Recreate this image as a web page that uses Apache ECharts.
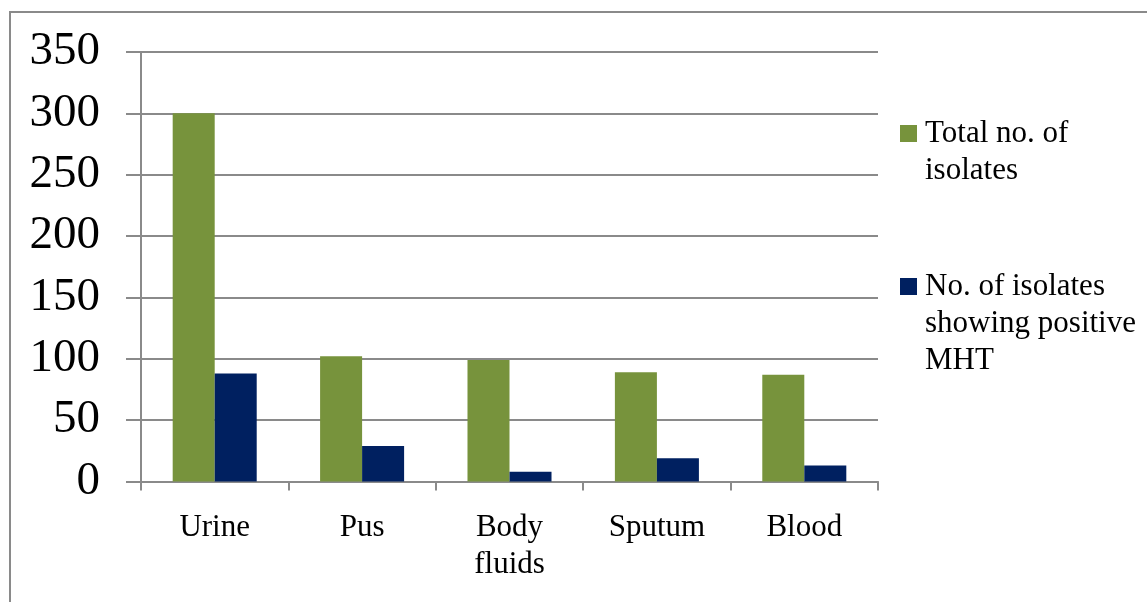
<!DOCTYPE html>
<html>
<head>
<meta charset="utf-8">
<script src="https://cdn.jsdelivr.net/npm/echarts@6/dist/echarts.min.js"></script>
<style>
html,body{margin:0;padding:0;background:#fff;}
#chart{width:1147px;height:602px;}
</style>
</head>
<body>
<div id="chart"></div>
<script>
var categories = ['Urine', 'Pus', 'Body\nfluids', 'Sputum', 'Blood'];
var seriesNames = ['Total no. of isolates', 'No. of isolates showing positive MHT'];
var totalIsolates = [300, 102, 99, 89, 87];
var positiveMHT = [88, 29, 8, 19, 13];
var yTicks = {min: 0, max: 350, interval: 50};

var chart = echarts.init(document.getElementById('chart'), null, {renderer: 'canvas'});
var serif = '"Liberation Serif", "Times New Roman", serif';
var legendText = {
  'Total no. of isolates': '\nTotal no. of\nisolates',
  'No. of isolates showing positive MHT': '\n\nNo. of isolates\nshowing positive\nMHT'
};
function legendCfg(name, top) {
  return {
    data: [name],
    left: 900,
    top: top,
    padding: 0,
    itemWidth: 17,
    itemHeight: 17,
    itemGap: 0,
    icon: 'rect',
    formatter: function (n) { return legendText[n]; },
    textStyle: {fontFamily: serif, fontSize: 31, lineHeight: 37, color: '#000', padding: [0, 0, 0, 3]}
  };
}
chart.setOption({
  animation: false,
  backgroundColor: '#fff',
  graphic: [{
    type: 'rect',
    shape: {x: 10, y: 12, width: 1300, height: 800},
    style: {fill: 'none', stroke: '#8a8a8a', lineWidth: 2},
    silent: true
  }],
  legend: [legendCfg(seriesNames[0], 78), legendCfg(seriesNames[1], 194)],
  grid: {left: 141, right: 269, top: 52, bottom: 120.5, containLabel: false},
  xAxis: {
    type: 'category',
    data: categories,
    axisLine: {lineStyle: {color: '#8a8a8a', width: 2}},
    axisTick: {show: true, length: 9, alignWithLabel: false, lineStyle: {color: '#8a8a8a', width: 2}},
    axisLabel: {fontFamily: serif, fontSize: 31, lineHeight: 37, color: '#000', margin: 28, interval: 0}
  },
  yAxis: {
    type: 'value',
    min: yTicks.min,
    max: yTicks.max,
    interval: yTicks.interval,
    axisLine: {show: true, lineStyle: {color: '#8a8a8a', width: 2}},
    axisTick: {show: true, inside: false, length: 15, lineStyle: {color: '#8a8a8a', width: 2}},
    splitLine: {show: true, lineStyle: {color: '#8a8a8a', width: 2}},
    axisLabel: {fontFamily: serif, fontSize: 47, color: '#000', margin: 41, padding: [5, 0, 0, 0]}
  },
  series: [{
    name: seriesNames[0],
    type: 'bar',
    data: totalIsolates,
    barGap: '0%',
    barCategoryGap: '43%',
    itemStyle: {color: '#77933C'}
  }, {
    name: seriesNames[1],
    type: 'bar',
    data: positiveMHT,
    barGap: '0%',
    barCategoryGap: '43%',
    itemStyle: {color: '#002060'}
  }]
});
</script>
</body>
</html>
